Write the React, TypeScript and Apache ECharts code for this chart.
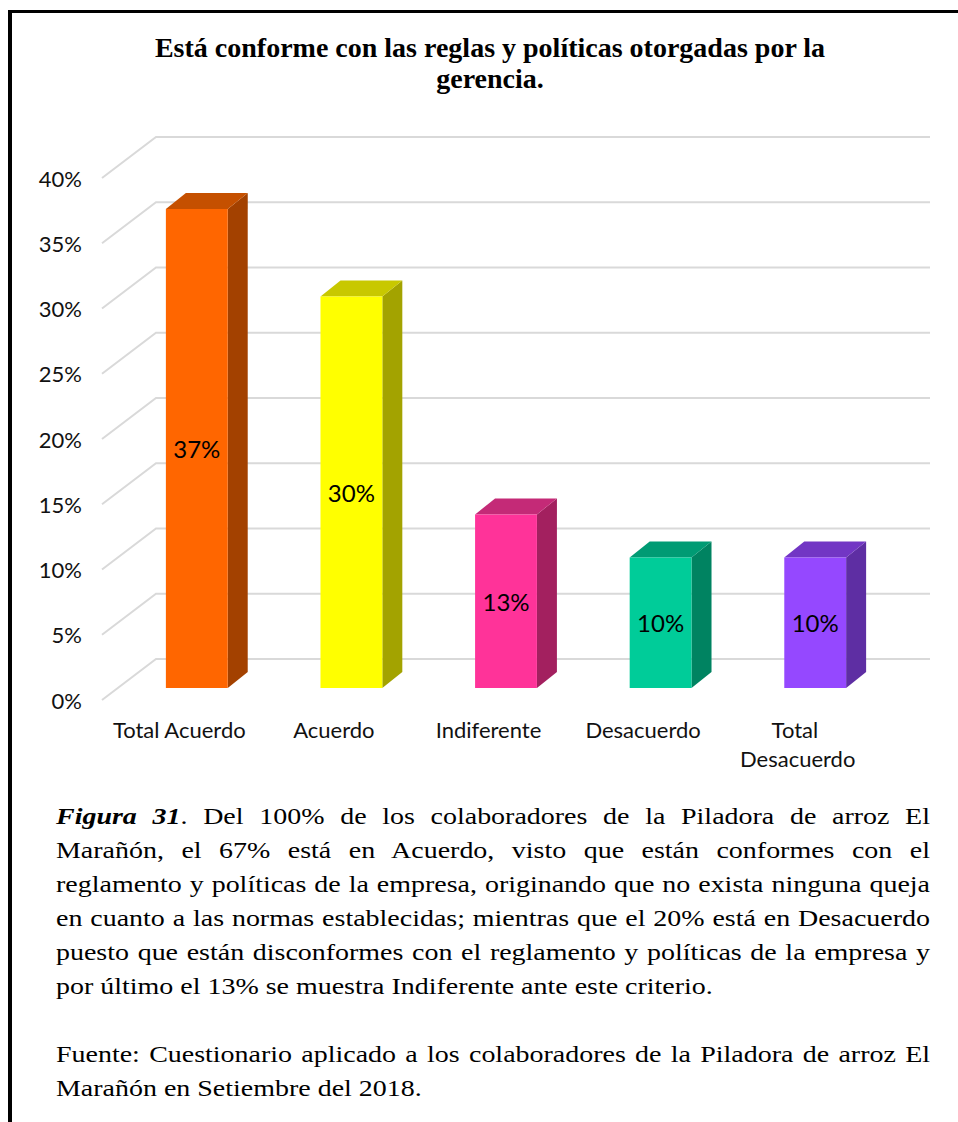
import React, { useEffect, useRef } from "react";
import * as echarts from "echarts";

const titleText = "Está conforme con las reglas y políticas otorgadas por la\ngerencia.";
const categories = ["Total Acuerdo", "Acuerdo", "Indiferente", "Desacuerdo", "Total Desacuerdo"];
const values = [36.7, 30, 13.3, 10, 10];
const yTicks = [0, 5, 10, 15, 20, 25, 30, 35, 40];

const frontColors = ["#FF6600", "#FFFF00", "#FF3399", "#00CC99", "#9548FF"];
const sideColors = ["#A34100", "#A3A300", "#A3205F", "#008361", "#5E2EA3"];
const topColors = ["#C55000", "#C8C800", "#C42A77", "#009B74", "#7236C4"];

// [content, justified]
const captionLines: [React.ReactNode, boolean][] = [
  [
    <>
      <b><i>Figura 31</i></b>. Del 100% de los colaboradores de la Piladora de arroz El
    </>,
    true,
  ],
  ["Marañón, el 67% está en Acuerdo, visto que están conformes con el", true],
  ["reglamento y políticas de la empresa, originando que no exista ninguna queja", true],
  ["en cuanto a las normas establecidas; mientras que el 20% está en Desacuerdo", true],
  ["puesto que están disconformes con el reglamento y políticas de la empresa y", true],
  ["por último el 13% se muestra Indiferente ante este criterio.", false],
  ["\u00a0", false],
  ["Fuente: Cuestionario aplicado a los colaboradores de la Piladora de arroz El", true],
  ["Marañón en Setiembre del 2018.", false],
];

const LABEL_FONT = "Lato";
const DEPTH_X = 54;
const DEPTH_Y = -41;
const BAR_OFF_X = 17.5;
const BAR_OFF_Y = -12;
const BAR_DX = 20;
const BAR_DY = -16;
const CAPTION_STRETCH = 1.165;

function Caption({ lines, top }: { lines: [React.ReactNode, boolean][]; top: number }) {
  return (
    <div
      style={{
        position: "absolute",
        left: 56,
        top,
        width: 874 / CAPTION_STRETCH,
        transform: `scaleX(${CAPTION_STRETCH})`,
        transformOrigin: "0 0",
        fontFamily: '"Liberation Serif", "Times New Roman", serif',
        fontSize: 24,
        lineHeight: "34px",
        color: "#000",
      }}
    >
      {lines.map(([l, just], i) => (
        <div
          key={i}
          style={{
            textAlign: just ? "justify" : "left",
            textAlignLast: just ? "justify" : "left",
            whiteSpace: "nowrap",
          }}
        >
          {l}
        </div>
      ))}
    </div>
  );
}

export default function App() {
  const ref = useRef<HTMLDivElement>(null);

  useEffect(() => {
    if (!ref.current) return;
    const chart = echarts.init(ref.current, undefined, { renderer: "svg" });
    const option: any = {
      animation: false,
      backgroundColor: "transparent",
      graphic: [
        {
          type: "text",
          x: 490,
          y: 32,
          style: {
            text: titleText,
            font: 'bold 28px "Liberation Serif"',
            lineHeight: 31,
            align: "center",
            fill: "#000",
          },
        },
      ],
      grid: { left: 102, top: 178, width: 773, height: 522, containLabel: false },
      xAxis: {
        type: "category",
        data: categories,
        axisLine: { show: false },
        axisTick: { show: false },
        splitLine: { show: false },
        axisLabel: {
          interval: 0,
          margin: 15,
          color: "#111",
          fontFamily: LABEL_FONT,
          fontSize: 22,
          lineHeight: 29,
          width: 150,
          overflow: "break",
          align: "center",
        },
      },
      yAxis: {
        type: "value",
        min: 0,
        max: 40,
        interval: 5,
        axisLine: { show: false },
        axisTick: { show: false },
        splitLine: { show: false },
        axisLabel: {
          formatter: "{value}%",
          margin: 20,
          color: "#111",
          fontFamily: LABEL_FONT,
          fontSize: 22,
        },
      },
      series: [
        {
          type: "custom",
          name: "grid",
          silent: true,
          clip: false,
          z: 1,
          data: yTicks.map((v) => [0, v]),
          renderItem: (params: any, api: any) => {
            const v = api.value(1);
            const p = api.coord([0, v]);
            const cs = params.coordSys;
            const x0 = cs.x;
            const y = p[1];
            return {
              type: "polyline",
              shape: {
                points: [
                  [x0, y],
                  [x0 + DEPTH_X, y + DEPTH_Y],
                  [cs.x + cs.width + DEPTH_X + 1, y + DEPTH_Y],
                ],
              },
              style: { stroke: "#d9d9d9", lineWidth: 2, fill: null },
            };
          },
        },
        {
          type: "custom",
          name: "bars",
          clip: false,
          z: 2,
          data: values.map((v, i) => [i, v]),
          renderItem: (params: any, api: any) => {
            const i = api.value(0);
            const v = api.value(1);
            const base = api.coord([i, 0]);
            const topP = api.coord([i, v]);
            const band = api.size([1, 0])[0];
            const w = band * 0.4;
            const cx = base[0] + BAR_OFF_X;
            const x1 = cx - w / 2;
            const x2 = cx + w / 2;
            const yb = base[1] + BAR_OFF_Y;
            const yt = topP[1] + BAR_OFF_Y;
            return {
              type: "group",
              children: [
                {
                  type: "polygon",
                  shape: { points: [[x2, yt], [x2 + BAR_DX, yt + BAR_DY], [x2 + BAR_DX, yb + BAR_DY], [x2, yb]] },
                  style: { fill: sideColors[i] },
                },
                {
                  type: "polygon",
                  shape: { points: [[x1, yt], [x1 + BAR_DX, yt + BAR_DY], [x2 + BAR_DX, yt + BAR_DY], [x2, yt]] },
                  style: { fill: topColors[i] },
                },
                {
                  type: "polygon",
                  shape: { points: [[x1, yt], [x2, yt], [x2, yb], [x1, yb]] },
                  style: { fill: frontColors[i] },
                },
                {
                  type: "text",
                  x: cx,
                  y: (yt + yb) / 2,
                  style: {
                    text: Math.round(v) + "%",
                    font: `24px ${LABEL_FONT}`,
                    align: "center",
                    verticalAlign: "middle",
                    fill: "#000",
                  },
                },
              ],
            };
          },
        },
      ],
    };
    chart.setOption(option);
    return () => chart.dispose();
  }, []);

  return (
    <div
      style={{
        position: "absolute",
        left: 0,
        top: 0,
        width: 958,
        height: 1122,
        overflow: "hidden",
        background: "#fff",
      }}
    >
      <div style={{ position: "absolute", left: 8, top: 10, width: 950, height: 3, background: "#000" }} />
      <div style={{ position: "absolute", left: 8, top: 10, width: 4, height: 1112, background: "#000" }} />
      <div ref={ref} style={{ position: "absolute", left: 0, top: 0, width: 958, height: 790 }} />
      <Caption lines={captionLines} top={798.5} />
    </div>
  );
}
